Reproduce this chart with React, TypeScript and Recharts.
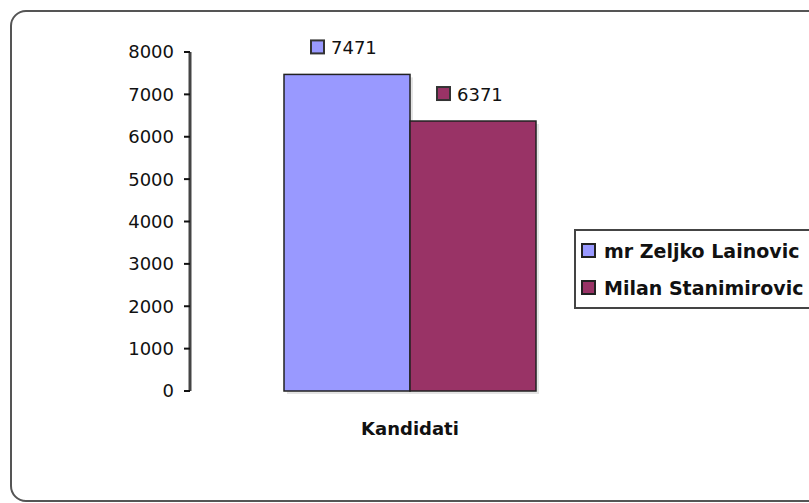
import React from "react";
import { BarChart, Bar, XAxis, YAxis, LabelList } from "recharts";

// ============================================================================
// Data
// ============================================================================

const categories = ["Kandidati"];
const seriesNames = ["mr Zeljko Lainovic", "Milan Stanimirovic"];
const lainovicVotes = [7471];
const stanimirovicVotes = [6371];
const yTicks = [0, 1000, 2000, 3000, 4000, 5000, 6000, 7000, 8000];

const colors = ["#9999FF", "#993366"];

const data = categories.map((name, i) => ({
  name,
  lainovic: lainovicVotes[i],
  stanimirovic: stanimirovicVotes[i],
}));

const FONT = "'DejaVu Sans', sans-serif";

// ============================================================================
// Pieces
// ============================================================================

function ShadowBar(props: any) {
  const { x, y, width, height, fill } = props;
  if (!height || height <= 0) return null;
  return (
    <g>
      <rect x={x + 3} y={y + 3} width={width} height={height} fill="#e4e4e4" />
      <rect x={x} y={y} width={width} height={height} fill={fill} stroke="#222" strokeWidth={1.5} />
    </g>
  );
}

function makeValueLabel(color: string) {
  return function ValueLabel(props: any) {
    const { x, y, width, value } = props;
    const cx = x + width / 2;
    const cy = y - 27;
    return (
      <g>
        <rect x={cx - 36} y={cy - 7} width={13} height={13} fill={color} stroke="#333" strokeWidth={2} />
        <text x={cx - 16} y={cy} dominantBaseline="central" fontSize={18} fontFamily={FONT} fill="#111">
          {value}
        </text>
      </g>
    );
  };
}

function CategoryTick(props: any) {
  const { x, y, payload } = props;
  return (
    <text x={x} y={y + 31} textAnchor="middle" dominantBaseline="central" fontSize={18} fontWeight="bold" fontFamily={FONT} fill="#111">
      {payload.value}
    </text>
  );
}

// legend sits on the right edge, drawn as plain html over the chart
function LegendBox() {
  return (
    <div
      style={{
        position: "absolute",
        left: 574,
        top: 229,
        width: 260,
        border: "2px solid #444",
        background: "#fff",
        padding: "1px 0 1px 5px",
        fontFamily: FONT,
        fontWeight: "bold",
        fontSize: 19,
        color: "#111",
      }}
    >
      {seriesNames.map((name, i) => (
        <div key={name} style={{ display: "flex", alignItems: "center", height: 37 }}>
          <span
            style={{
              display: "inline-block",
              width: 11,
              height: 11,
              background: colors[i],
              border: "2px solid #222",
              marginRight: 8,
            }}
          />
          {name}
        </div>
      ))}
    </div>
  );
}

// ============================================================================
// Component
// ============================================================================

export default function App() {
  return (
    <div style={{ position: "fixed", left: 0, top: 0, width: 809, height: 503, background: "#fff", overflow: "hidden", fontFamily: FONT }}>
      <div
        style={{
          position: "absolute",
          left: 10,
          top: 10,
          width: 840,
          height: 488,
          border: "2px solid #555",
          borderRadius: 16,
        }}
      />
      <div style={{ position: "absolute", left: 0, top: 0 }}>
        <BarChart
          width={809}
          height={503}
          data={data}
          margin={{ top: 52, right: 179, bottom: 0, left: 0 }}
          barGap={0}
          barSize={126}
        >
          <XAxis
            dataKey="name"
            height={112}
            axisLine={false}
            tickLine={false}
            tickMargin={0}
            tick={<CategoryTick />}
          />
          <YAxis
            width={190}
            domain={[0, 8000]}
            ticks={yTicks}
            interval={0}
            axisLine={{ stroke: "#444", strokeWidth: 3 }}
            tickLine={{ stroke: "#111", strokeWidth: 2 }}
            tickSize={6}
            tickMargin={10}
            tick={{ fontSize: 18, fontFamily: FONT, fill: "#111" }}
          />
          <Bar dataKey="lainovic" name={seriesNames[0]} fill={colors[0]} shape={<ShadowBar />} isAnimationActive={false}>
            <LabelList dataKey="lainovic" content={makeValueLabel(colors[0])} />
          </Bar>
          <Bar dataKey="stanimirovic" name={seriesNames[1]} fill={colors[1]} shape={<ShadowBar />} isAnimationActive={false}>
            <LabelList dataKey="stanimirovic" content={makeValueLabel(colors[1])} />
          </Bar>
        </BarChart>
      </div>
      <LegendBox />
    </div>
  );
}
